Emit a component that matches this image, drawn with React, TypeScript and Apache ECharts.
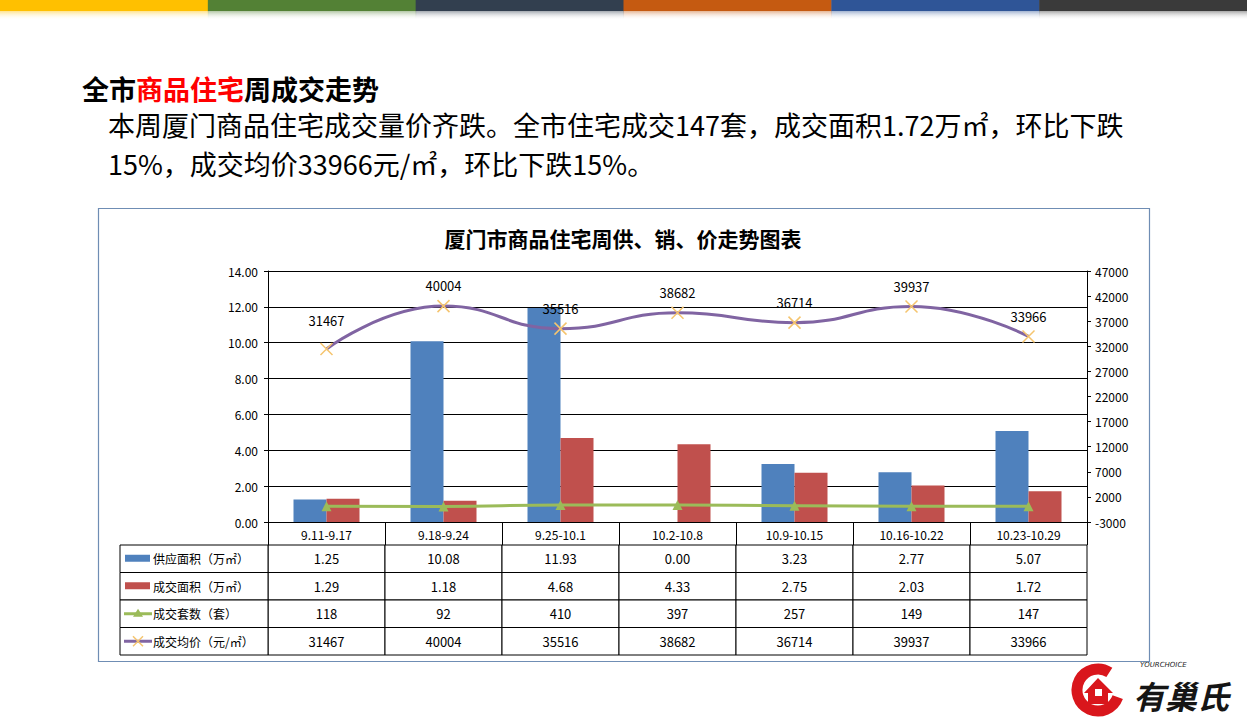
import React, { useEffect, useRef } from "react";
import * as echarts from "echarts";

const categories = ["9.11-9.17", "9.18-9.24", "9.25-10.1", "10.2-10.8", "10.9-10.15", "10.16-10.22", "10.23-10.29"];
const supplyArea = [1.25, 10.08, 11.93, 0.0, 3.23, 2.77, 5.07];
const dealArea = [1.29, 1.18, 4.68, 4.33, 2.75, 2.03, 1.72];
const dealUnits = [118, 92, 410, 397, 257, 149, 147];
const avgPrice = [31467, 40004, 35516, 38682, 36714, 39937, 33966];
const rightTickLabels = ["-3000", "2000", "7000", "12000", "17000", "22000", "27000", "32000", "37000", "42000", "47000"];
const rowNames = ["供应面积（万㎡）", "成交面积（万㎡）", "成交套数（套）", "成交均价（元/㎡）"];
const stripeColors = ["#FFC000", "#538135", "#323F4F", "#C55A11", "#2F5597", "#3A3A3A"];

const FONT = "'Microsoft YaHei', 'Noto Sans CJK SC', sans-serif";
const BLUE = "#4F81BD";
const RED = "#C0504D";
const GREEN = "#9BBB59";
const PURPLE = "#8064A2";
const CROSS = "#F5C46E";

const tableRows: string[][] = [
  supplyArea.map((v) => v.toFixed(2)),
  dealArea.map((v) => v.toFixed(2)),
  dealUnits.map((v) => String(v)),
  avgPrice.map((v) => String(v)),
];

function hexToRgba(hex: string, a: number) {
  const n = parseInt(hex.slice(1), 16);
  return `rgba(${(n >> 16) & 255},${(n >> 8) & 255},${n & 255},${a})`;
}

export default function App() {
  const ref = useRef<HTMLDivElement>(null);
  useEffect(() => {
    if (!ref.current) return;
    const chart = echarts.init(ref.current, undefined, { renderer: "svg" });

    const tableData: number[][] = [];
    for (let r = 0; r < rowNames.length; r++) {
      for (let c = 0; c < categories.length; c++) tableData.push([c, r]);
    }

    const W = 1247;
    const segW = W / stripeColors.length;
    const stripes: any[] = [];
    stripeColors.forEach((col, i) => {
      stripes.push({
        type: "rect",
        shape: { x: i * segW, y: 0, width: segW + 0.5, height: 11 },
        style: { fill: col },
      });
      stripes.push({
        type: "rect",
        shape: { x: i * segW, y: 11, width: segW + 0.5, height: 9 },
        style: {
          fill: new echarts.graphic.LinearGradient(0, 0, 0, 1, [
            { offset: 0, color: hexToRgba(col, 0.45) },
            { offset: 1, color: "rgba(255,255,255,0)" },
          ]),
        },
      });
    });

    const priceData = avgPrice.map((v, i) =>
      i === 0 ? { value: v, label: { distance: 15 } } : v
    );

    const option: any = {
      animation: false,
      backgroundColor: "#ffffff",
      textStyle: { fontFamily: FONT },
      graphic: [
        ...stripes,
        {
          type: "text",
          x: 82,
          y: 88,
          style: {
            text: "{a|全市}{r|商品住宅}{a|周成交走势}",
            verticalAlign: "middle",
            rich: {
              a: { fontSize: 27, fontWeight: "bold", fill: "#000", fontFamily: FONT },
              r: { fontSize: 27, fontWeight: "bold", fill: "#FF0000", fontFamily: FONT },
            },
          },
        },
        {
          type: "text",
          x: 108,
          y: 124,
          style: {
            text: "本周厦门商品住宅成交量价齐跌。全市住宅成交147套，成交面积1.72万㎡，环比下跌",
            fontSize: 27,
            fill: "#000",
            fontFamily: FONT,
            verticalAlign: "middle",
          },
        },
        {
          type: "text",
          x: 108,
          y: 163,
          style: {
            text: "15%，成交均价33966元/㎡，环比下跌15%。",
            fontSize: 27,
            fill: "#000",
            fontFamily: FONT,
            verticalAlign: "middle",
          },
        },
        {
          type: "rect",
          shape: { x: 98.5, y: 208.5, width: 1051, height: 453 },
          style: { fill: "none", stroke: "#6F8DB4", lineWidth: 1.2 },
          z: 100,
        },
        {
          type: "text",
          x: 623,
          y: 238,
          style: {
            text: "厦门市商品住宅周供、销、价走势图表",
            fontSize: 21,
            fontWeight: "bold",
            fill: "#000",
            fontFamily: FONT,
            align: "center",
            verticalAlign: "middle",
          },
        },
        // logo
        {
          type: "arc",
          shape: { cx: 1098, cy: 690, r: 21, startAngle: 0.35, endAngle: Math.PI * 2 - 1.0 },
          style: { stroke: "#D9161C", lineWidth: 11, fill: "none" },
        },
        {
          type: "polygon",
          shape: {
            points: [
              [1084, 693], [1098, 678], [1113, 693], [1108, 693], [1108, 704], [1088, 704], [1088, 693],
            ],
          },
          style: { fill: "#D9161C" },
        },
        {
          type: "rect",
          shape: { x: 1095, y: 689, width: 7, height: 7 },
          style: { fill: "#ffffff" },
        },
        {
          type: "text",
          x: 1140,
          y: 665,
          style: {
            text: "YOURCHOICE",
            fontSize: 7,
            fontStyle: "italic",
            fill: "#222",
            fontFamily: "DejaVu Sans",
            verticalAlign: "middle",
          },
        },
        {
          type: "text",
          x: 1133,
          y: 695,
          style: {
            text: "有巢氏",
            fontSize: 32,
            fontWeight: "bold",
            fontStyle: "italic",
            fill: "#151515",
            fontFamily: FONT,
            verticalAlign: "middle",
          },
        },
      ],
      grid: [
        { left: 268, right: 160, top: 271, height: 251 },
        { left: 268, right: 160, top: 545, height: 110 },
      ],
      xAxis: [
        {
          type: "category",
          gridIndex: 0,
          data: categories,
          axisLine: { lineStyle: { color: "#000", width: 1 } },
          axisTick: { show: true, interval: 0, length: 23, lineStyle: { color: "#000" } },
          axisLabel: { color: "#000", fontSize: 12, margin: 6, interval: 0, fontFamily: FONT },
        },
        {
          type: "category",
          gridIndex: 1,
          data: categories,
          show: false,
        },
      ],
      yAxis: [
        {
          type: "value",
          gridIndex: 0,
          min: 0,
          max: 14,
          interval: 2,
          axisLine: { show: true, lineStyle: { color: "#000" } },
          axisTick: { show: true, length: 4, lineStyle: { color: "#000" } },
          axisLabel: {
            color: "#000",
            fontSize: 12,
            margin: 10,
            fontFamily: FONT,
            formatter: (v: number) => v.toFixed(2),
          },
          splitLine: { show: true, lineStyle: { color: "#000", width: 1 } },
        },
        {
          type: "value",
          gridIndex: 0,
          position: "right",
          min: -3000,
          max: 47000,
          show: false,
          splitLine: { show: false },
        },
        {
          type: "value",
          gridIndex: 0,
          position: "right",
          min: 0,
          max: 50000,
          interval: 5000,
          axisLine: { show: true, lineStyle: { color: "#000" } },
          axisTick: { show: true, length: 4, lineStyle: { color: "#000" } },
          axisLabel: {
            color: "#000",
            fontSize: 12,
            margin: 8,
            fontFamily: FONT,
            formatter: (v: number) => rightTickLabels[Math.round(v / 5000)] ?? "",
          },
          splitLine: { show: false },
        },
        {
          type: "category",
          gridIndex: 1,
          data: rowNames,
          inverse: true,
          show: false,
        },
      ],
      series: [
        {
          name: rowNames[0],
          type: "bar",
          xAxisIndex: 0,
          yAxisIndex: 0,
          data: supplyArea,
          barWidth: 33,
          barGap: "0%",
          itemStyle: { color: BLUE },
        },
        {
          name: rowNames[1],
          type: "bar",
          xAxisIndex: 0,
          yAxisIndex: 0,
          data: dealArea,
          barWidth: 33,
          barGap: "0%",
          itemStyle: { color: RED },
        },
        {
          name: rowNames[2],
          type: "line",
          xAxisIndex: 0,
          yAxisIndex: 1,
          data: dealUnits,
          smooth: true,
          symbol: "triangle",
          symbolSize: 10,
          lineStyle: { color: GREEN, width: 3 },
          itemStyle: { color: GREEN },
          z: 5,
        },
        {
          name: rowNames[3],
          type: "line",
          xAxisIndex: 0,
          yAxisIndex: 1,
          data: priceData,
          smooth: true,
          symbol: "path://M0 0L10 10M10 0L0 10",
          symbolSize: 12,
          lineStyle: { color: PURPLE, width: 3 },
          itemStyle: { color: CROSS, borderColor: CROSS, borderWidth: 1.5 },
          label: {
            show: true,
            position: "top",
            distance: 7,
            color: "#000",
            fontSize: 13,
            fontFamily: FONT,
          },
          z: 6,
        },
        {
          type: "custom",
          coordinateSystem: "cartesian2d",
          xAxisIndex: 1,
          yAxisIndex: 3,
          data: tableData,
          clip: false,
          renderItem: (params: any, api: any) => {
            const c = api.value(0);
            const r = api.value(1);
            const center = api.coord([c, r]);
            const size = api.size([1, 1]);
            const cw = size[0];
            const rh = size[1];
            const x0 = center[0] - cw / 2;
            const y0 = center[1] - rh / 2;
            const children: any[] = [
              {
                type: "rect",
                shape: { x: x0, y: y0, width: cw, height: rh },
                style: { fill: "#fff", stroke: "#000", lineWidth: 1 },
              },
              {
                type: "text",
                style: {
                  text: tableRows[r][c],
                  x: center[0],
                  y: center[1],
                  align: "center",
                  verticalAlign: "middle",
                  fontSize: 13,
                  fill: "#000",
                  fontFamily: FONT,
                },
              },
            ];
            if (c === 0) {
              const lx = x0 - 148;
              const cy = center[1];
              children.push({
                type: "rect",
                shape: { x: lx, y: y0, width: 148, height: rh },
                style: { fill: "#fff", stroke: "#000", lineWidth: 1 },
              });
              if (r === 0 || r === 1) {
                children.push({
                  type: "rect",
                  shape: { x: lx + 5, y: cy - 4, width: 25, height: 7 },
                  style: { fill: r === 0 ? BLUE : RED },
                });
              } else {
                const lc = r === 2 ? GREEN : PURPLE;
                children.push({
                  type: "line",
                  shape: { x1: lx + 4, y1: cy, x2: lx + 32, y2: cy },
                  style: { stroke: lc, lineWidth: 3 },
                });
                if (r === 2) {
                  children.push({
                    type: "polygon",
                    shape: { points: [[lx + 18, cy - 5], [lx + 23, cy + 3], [lx + 13, cy + 3]] },
                    style: { fill: GREEN },
                  });
                } else {
                  children.push({
                    type: "line",
                    shape: { x1: lx + 13, y1: cy - 5, x2: lx + 23, y2: cy + 5 },
                    style: { stroke: CROSS, lineWidth: 1.5 },
                  });
                  children.push({
                    type: "line",
                    shape: { x1: lx + 23, y1: cy - 5, x2: lx + 13, y2: cy + 5 },
                    style: { stroke: CROSS, lineWidth: 1.5 },
                  });
                }
              }
              children.push({
                type: "text",
                style: {
                  text: rowNames[r],
                  x: lx + 33,
                  y: cy,
                  align: "left",
                  verticalAlign: "middle",
                  fontSize: 12,
                  fill: "#000",
                  fontFamily: FONT,
                },
              });
            }
            return { type: "group", children };
          },
        },
      ],
    };

    chart.setOption(option);
    return () => {
      chart.dispose();
    };
  }, []);

  return (
    <div
      ref={ref}
      style={{ position: "absolute", left: 0, top: 0, width: 1247, height: 718, background: "#fff" }}
    />
  );
}
